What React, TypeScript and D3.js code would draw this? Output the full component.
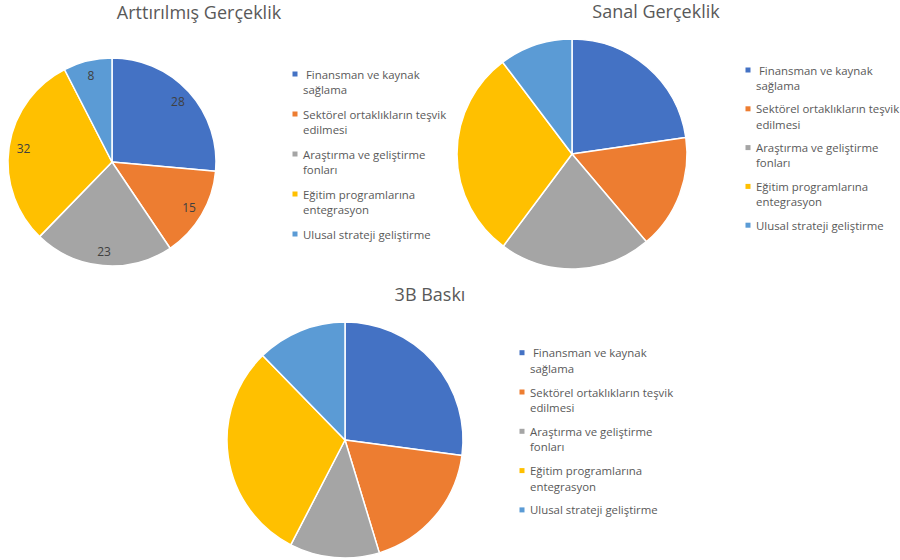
import React from "react";
import * as d3 from "d3";

const categories = [
  " Finansman ve kaynak|sağlama",
  "Sektörel ortaklıkların teşvik|edilmesi",
  "Araştırma ve geliştirme|fonları",
  "Eğitim programlarına|entegrasyon",
  "Ulusal strateji geliştirme",
];
const colors = ["#4472C4", "#ED7D31", "#A5A5A5", "#FFC000", "#5B9BD5"];

const titles = ["Arttırılmış Gerçeklik", "Sanal Gerçeklik", "3B Baskı"];
const arValues = [28, 15, 23, 32, 8];
const vrValues = [22.7, 16.1, 21.4, 29.5, 10.3];
const printValues = [27.1, 18.2, 12.3, 30.1, 12.3];
const showLabels = [true, false, false];

const layouts = [
  { cx: 112, cy: 162, r: 104, tx: 199, ty: 11.5, lx: 295, ly: 74, step: 40, line: 15.4 },
  { cx: 572, cy: 154, r: 115, tx: 656, ty: 11, lx: 748, ly: 70, step: 38.8, line: 15.3 },
  { cx: 345, cy: 440, r: 118, tx: 430, ty: 293.5, lx: 522, ly: 352.7, step: 39.3, line: 15.6 },
];

const FONT = "'Open Sans', sans-serif";

function Pie({ values, title, layout, labels }: any) {
  const pie = d3.pie<number>().sort(null).value((d) => d);
  const arcs = pie(values);
  const arc = d3.arc<d3.PieArcDatum<number>>().innerRadius(0).outerRadius(layout.r);
  const labelArc = d3.arc<d3.PieArcDatum<number>>().innerRadius(layout.r * 0.86).outerRadius(layout.r * 0.86);
  return (
    <g>
      <text x={layout.tx} y={layout.ty} textAnchor="middle" dominantBaseline="central"
        fontFamily={FONT} fontSize={18} fill="#595959">{title}</text>
      <g transform={`translate(${layout.cx},${layout.cy})`}>
        {arcs.map((a, i) => (
          <path key={i} d={arc(a) || ""} fill={colors[i]} stroke="#fff" strokeWidth={1.5} strokeLinejoin="round" />
        ))}
        {labels && arcs.map((a, i) => {
          const [x, y] = labelArc.centroid(a);
          return (
            <text key={"l" + i} x={x} y={y} textAnchor="middle" dominantBaseline="central"
              fontFamily={FONT} fontSize={12} fill="#404040">{values[i]}</text>
          );
        })}
      </g>
      <g>
        {categories.map((c, i) => {
          const lines = c.split("|");
          const y0 = layout.ly + i * layout.step;
          return (
            <g key={i}>
              <rect x={layout.lx - 2.5} y={y0 - 2.5} width={5} height={5} fill={colors[i]} />
              {lines.map((t, j) => (
                <text key={j} x={layout.lx + 8} y={y0 + j * layout.line} dominantBaseline="central"
                  fontFamily={FONT} fontSize={11.4} fill="#595959" style={{ whiteSpace: "pre" }}>{t}</text>
              ))}
            </g>
          );
        })}
      </g>
    </g>
  );
}

export default function App() {
  const data = [arValues, vrValues, printValues];
  return (
    <svg width={900} height={560} style={{ position: "absolute", left: 0, top: 0, background: "#fff" }}>
      {data.map((v, k) => (
        <Pie key={k} values={v} title={titles[k]} layout={layouts[k]} labels={showLabels[k]} />
      ))}
    </svg>
  );
}
